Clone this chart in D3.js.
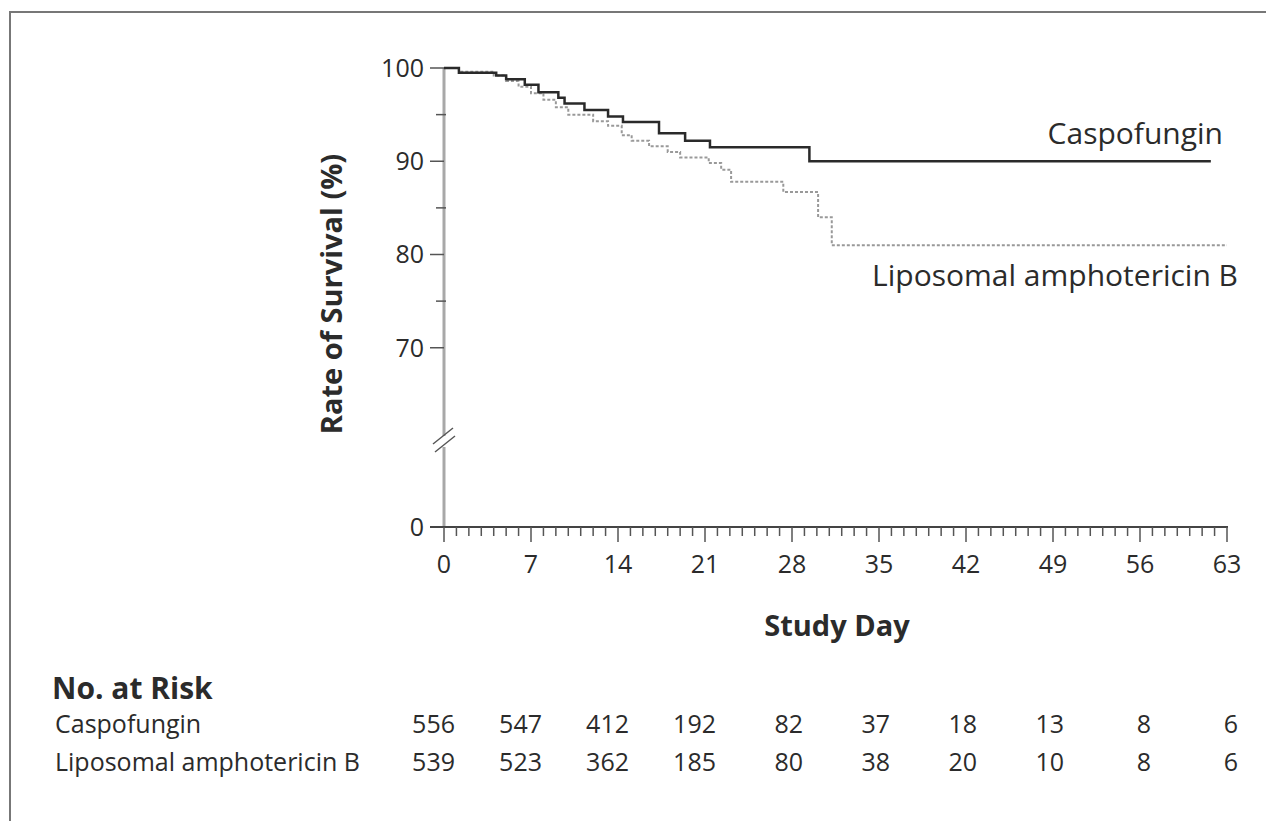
<!DOCTYPE html>
<html>
<head>
<meta charset="utf-8">
<script src="https://cdn.jsdelivr.net/npm/d3@7"></script>
<style>
  body { margin: 0; background: #fff; }
  svg { display: block; }
  text { font-family: "Open Sans", sans-serif; fill: #2b2b2b; }
</style>
</head>
<body>
<svg></svg>
<script>
const w = 1266;
const h = 821;

// survival steps (day, % alive)
const caspoDays = [0, 1.2, 4.2, 5, 6.5, 7.6, 9.2, 9.7, 11.3, 13.2, 14.4, 17.3, 19.4, 21.4, 29.4, 61.7];
const caspoRate = [100, 99.5, 99.2, 98.8, 98.2, 97.4, 96.8, 96.2, 95.5, 94.8, 94.2, 93.0, 92.2, 91.5, 90.0, 90.0];
const liposDays = [0, 1.2, 4.0, 5, 6, 7, 8, 9, 10, 12, 13.2, 14.3, 15.1, 16.5, 18, 19, 21.3, 22.3, 23.1, 27.3, 30.1, 31.2, 63];
const liposRate = [100, 99.6, 99.2, 98.6, 98.0, 97.3, 96.6, 95.8, 95.0, 94.3, 93.8, 92.8, 92.2, 91.6, 91.0, 90.4, 89.8, 89.1, 87.8, 86.7, 84.0, 81.0, 81.0];

const xTicks = [0, 7, 14, 21, 28, 35, 42, 49, 56, 63];
const yTicks = [100, 90, 80, 70];
const yMinor = [95, 85, 75];

const groups = ['Caspofungin', 'Liposomal amphotericin B'];
const caspoRisk = [556, 547, 412, 192, 82, 37, 18, 13, 8, 6];
const liposRisk = [539, 523, 362, 185, 80, 38, 20, 10, 8, 6];

const svg = d3.select('svg').attr('width', w).attr('height', h);

svg.append('rect')
  .attr('x', 10).attr('y', 12)
  .attr('width', 1300).attr('height', 900)
  .attr('fill', 'none')
  .attr('stroke', '#777')
  .attr('stroke-width', 2);

const x = d3.scaleLinear().domain([0, 63]).range([444, 1227]);
// broken axis: 0 sits below the break, 60-100 above it
const y = d3.scaleLinear().domain([0, 60, 100]).range([527, 441, 68]);

// y axis, split at the break
svg.append('line')
  .attr('x1', x(0)).attr('x2', x(0))
  .attr('y1', y(100)).attr('y2', 436)
  .attr('stroke', '#a8a8a8').attr('stroke-width', 3);
svg.append('line')
  .attr('x1', x(0)).attr('x2', x(0))
  .attr('y1', 447).attr('y2', y(0))
  .attr('stroke', '#a8a8a8').attr('stroke-width', 3);

svg.append('line').attr('x1', 433).attr('y1', 444).attr('x2', 453).attr('y2', 428)
  .attr('stroke', '#555').attr('stroke-width', 1.5);
svg.append('line').attr('x1', 435).attr('y1', 452).attr('x2', 455).attr('y2', 436)
  .attr('stroke', '#555').attr('stroke-width', 1.5);

svg.selectAll('.ytick')
  .data(yTicks)
  .enter()
  .append('line')
  .attr('x1', 430).attr('x2', x(0))
  .attr('y1', d => y(d)).attr('y2', d => y(d))
  .attr('stroke', '#555').attr('stroke-width', 1.5);

svg.selectAll('.yminor')
  .data(yMinor)
  .enter()
  .append('line')
  .attr('x1', 436).attr('x2', x(0) + 2)
  .attr('y1', d => y(d)).attr('y2', d => y(d))
  .attr('stroke', '#555').attr('stroke-width', 1.5);

svg.selectAll('.ylabel')
  .data(yTicks.concat([0]))
  .enter()
  .append('text')
  .attr('x', 424)
  .attr('y', d => y(d))
  .attr('dy', '0.35em')
  .attr('text-anchor', 'end')
  .style('font-size', '25px')
  .text(d => d);

// x axis with a tick every day
svg.append('line')
  .attr('x1', 430).attr('x2', x(63) + 1)
  .attr('y1', y(0)).attr('y2', y(0))
  .attr('stroke', '#444').attr('stroke-width', 2);

svg.selectAll('.xtick')
  .data(d3.range(0, 64))
  .enter()
  .append('line')
  .attr('x1', d => x(d)).attr('x2', d => x(d))
  .attr('y1', y(0))
  .attr('y2', d => y(0) + (d % 7 === 0 ? 15 : 9))
  .attr('stroke', '#555').attr('stroke-width', 1.5);

svg.selectAll('.xlabel')
  .data(xTicks)
  .enter()
  .append('text')
  .attr('x', d => x(d))
  .attr('y', 573)
  .attr('text-anchor', 'middle')
  .style('font-size', '25px')
  .text(d => d);

svg.append('text')
  .attr('x', 837).attr('y', 636)
  .attr('text-anchor', 'middle')
  .style('font-size', '29px')
  .style('font-weight', 'bold')
  .text('Study Day');

svg.append('text')
  .attr('transform', 'translate(342,294) rotate(-90)')
  .attr('text-anchor', 'middle')
  .style('font-size', '29px')
  .style('font-weight', 'bold')
  .text('Rate of Survival (%)');

// curves
const line = d3.line()
  .x(d => x(d[0]))
  .y(d => y(d[1]))
  .curve(d3.curveStepAfter);

svg.append('path')
  .attr('d', line(d3.zip(liposDays, liposRate)))
  .attr('fill', 'none')
  .attr('stroke', '#999')
  .attr('stroke-width', 2)
  .attr('stroke-dasharray', '3,2');

svg.append('path')
  .attr('d', line(d3.zip(caspoDays, caspoRate)))
  .attr('fill', 'none')
  .attr('stroke', '#2a2a2a')
  .attr('stroke-width', 2.5);

svg.append('text')
  .attr('x', 1223).attr('y', 144)
  .attr('text-anchor', 'end')
  .style('font-size', '30px')
  .text(groups[0]);

svg.append('text')
  .attr('x', 1238).attr('y', 286)
  .attr('text-anchor', 'end')
  .style('font-size', '30px')
  .text(groups[1]);

// number at risk table
svg.append('text')
  .attr('x', 52).attr('y', 699)
  .style('font-size', '30px')
  .style('font-weight', 'bold')
  .text('No. at Risk');

const rows = [caspoRisk, liposRisk];
const rowY = [733, 771];

rows.forEach((row, i) => {
  svg.append('text')
    .attr('x', 55).attr('y', rowY[i])
    .style('font-size', '25px')
    .text(groups[i]);

  svg.selectAll('.risk' + i)
    .data(row)
    .enter()
    .append('text')
    .attr('x', (d, j) => x(xTicks[j]) + 11)
    .attr('y', rowY[i])
    .attr('text-anchor', 'end')
    .style('font-size', '25px')
    .text(d => d);
});
</script>
</body>
</html>
